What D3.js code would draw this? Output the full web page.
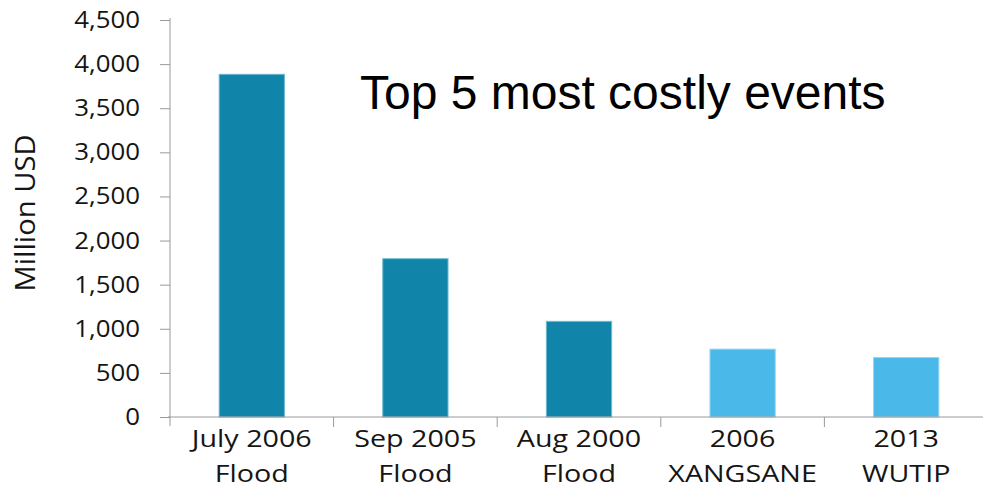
<!DOCTYPE html>
<html>
<head>
<meta charset="utf-8">
<script src="https://cdn.jsdelivr.net/npm/d3@7"></script>
<style>
  html, body { margin: 0; padding: 0; background: #fff; }
  svg { display: block; }
  .tick text { font-family: "Open Sans", sans-serif; fill: #151515; }
</style>
</head>
<body>
<svg id="chart" width="983" height="489"></svg>
<script>
// Event names (two lines each) and loss in million USD
const eventLine1 = ["July 2006", "Sep 2005", "Aug 2000", "2006", "2013"];
const eventLine2 = ["Flood", "Flood", "Flood", "XANGSANE", "WUTIP"];
const lossMillionUSD = [3890, 1800, 1090, 775, 680];
const eventType = ["flood", "flood", "flood", "typhoon", "typhoon"];
const yTicks = [0, 500, 1000, 1500, 2000, 2500, 3000, 3500, 4000, 4500];
const titleText = "Top 5 most costly events";
const yAxisTitle = "Million USD";

const svg = d3.select("#chart");
const plotLeft = 170, plotRight = 988, plotTop = 20, plotBottom = 417;

// widen text glyphs horizontally by factor k
function widen(sel, k) {
  sel.each(function () {
    const w = this.getComputedTextLength();
    d3.select(this).attr("textLength", w * k).attr("lengthAdjust", "spacingAndGlyphs");
  });
}

const x = d3.scaleBand()
  .domain(d3.range(eventLine1.length))
  .range([plotLeft, plotRight])
  .paddingInner(0.595)
  .paddingOuter(0.2975);

const y = d3.scaleLinear().domain([0, 4500]).range([plotBottom, plotTop]);

const color = d3.scaleOrdinal().domain(["flood", "typhoon"]).range(["#1184a9", "#4ab9ea"]);
const edge = d3.scaleOrdinal().domain(["flood", "typhoon"]).range(["#6fb9d2", "#94d6f4"]);

// Bars
svg.append("g").selectAll("rect")
  .data(lossMillionUSD)
  .join("rect")
  .attr("x", (d, i) => x(i) + 0.5)
  .attr("y", d => y(d) + 0.5)
  .attr("width", x.bandwidth() - 1)
  .attr("height", d => plotBottom - y(d) - 0.5)
  .attr("fill", (d, i) => color(eventType[i]))
  .attr("stroke", (d, i) => edge(eventType[i]))
  .attr("stroke-width", 1);

// Y axis
const yAxis = svg.append("g")
  .attr("transform", `translate(${plotLeft},0)`)
  .call(d3.axisLeft(y).tickValues(yTicks).tickSize(10).tickPadding(20)
    .tickFormat(d3.format(",")));
yAxis.select(".domain").remove();
yAxis.selectAll(".tick line").attr("stroke", "#9a9a9a");
yAxis.selectAll(".tick text").attr("font-size", 23.5).call(widen, 1.1);
yAxis.append("line")
  .attr("x1", 0).attr("x2", 0)
  .attr("y1", plotTop - 2).attr("y2", plotBottom + 9)
  .attr("stroke", "#9a9a9a");

// X axis: baseline with separators between categories
const xg = svg.append("g").attr("transform", `translate(0,${plotBottom})`);
xg.append("line")
  .attr("x1", plotLeft - 2).attr("x2", 983)
  .attr("y1", 0).attr("y2", 0)
  .attr("stroke", "#9a9a9a");
xg.selectAll("line.sep")
  .data(d3.range(1, eventLine1.length))
  .join("line")
  .attr("class", "sep")
  .attr("x1", i => x(i) - x.step() * x.paddingInner() / 2)
  .attr("x2", i => x(i) - x.step() * x.paddingInner() / 2)
  .attr("y1", 0).attr("y2", 10)
  .attr("stroke", "#9a9a9a");

// two-line category labels
const cx = i => x(i) + x.bandwidth() / 2;
function categoryLine(cls, data, dy) {
  xg.selectAll("text." + cls)
    .data(data)
    .join("text")
    .attr("class", cls)
    .attr("text-anchor", "middle")
    .attr("font-family", "'Open Sans', sans-serif")
    .attr("font-size", 23.5)
    .attr("fill", "#151515")
    .attr("x", (d, i) => cx(i))
    .attr("y", dy)
    .text(d => d)
    .call(widen, 1.22);
}
categoryLine("l1", eventLine1, 30);
categoryLine("l2", eventLine2, 65);

// Axis title
svg.append("text")
  .attr("transform", `translate(35,213) rotate(-90)`)
  .attr("text-anchor", "middle")
  .attr("font-family", "'Open Sans', sans-serif")
  .attr("font-size", 27)
  .attr("fill", "#151515")
  .text(yAxisTitle)
  .call(widen, 1.08);

// Chart title
svg.append("text")
  .attr("x", 360)
  .attr("y", 109)
  .attr("font-family", "'Liberation Sans', Arial, sans-serif")
  .attr("font-size", 48)
  .attr("fill", "#000")
  .text(titleText);
</script>
</body>
</html>
